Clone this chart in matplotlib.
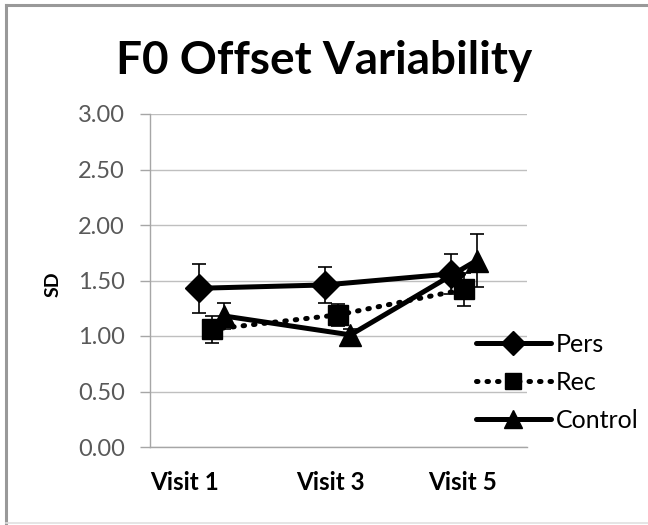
import matplotlib
matplotlib.use("Agg")
import matplotlib.pyplot as plt
from matplotlib.lines import Line2D
import numpy as np

categories = ["Visit 1", "Visit 3", "Visit 5"]
pers = [1.43, 1.46, 1.56]
pers_err = [0.22, 0.16, 0.18]
rec = [1.06, 1.19, 1.42]
rec_err = [0.12, 0.10, 0.15]
control = [1.18, 1.01, 1.68]
control_err = [0.12, 0.05, 0.24]
yticks = [0.0, 0.5, 1.0, 1.5, 2.0, 2.5, 3.0]

plt.rcParams['font.family'] = ['Lato', 'DejaVu Sans']

fig = plt.figure(figsize=(6.48, 5.25), dpi=100)
ax = fig.add_axes([150/648, 78/525, 377/648, 333/525])

x = np.arange(len(categories))
series = [
    ("Pers", pers, pers_err, 0.0, "D", 14, (0, ())),
    ("Rec", rec, rec_err, 0.1, "s", 14, (0, (0.3, 1.8))),
    ("Control", control, control_err, 0.2, "^", 16, (0, ())),
]
handles = []
for i, (name, vals, err, off, mk, ms, ls) in enumerate(series):
    xs = x + off
    ax.errorbar(xs, vals, yerr=err, fmt="none", ecolor="black", elinewidth=1.2,
                capsize=5, capthick=1.2, zorder=3 + i)
    ax.plot(xs, vals, color="black", lw=3.6, linestyle=ls, marker=mk,
            markersize=ms, markerfacecolor="black", markeredgecolor="black",
            dash_capstyle="round", solid_capstyle="butt", zorder=4 + i)
    handles.append(Line2D([], [], color="black", lw=3.6, linestyle=ls, marker=mk,
                          markersize=ms * 0.85, dash_capstyle="round"))

ax.set_xlim(-0.39, 2.60)
ax.set_ylim(0, 3)
ax.set_yticks(yticks)
ax.set_yticklabels([f"{v:.2f}" for v in yticks], fontsize=17, color="#595959")
ax.set_xticks([-0.12, 1.04, 2.09])
ax.set_xticklabels(categories, fontsize=17.5, fontweight="bold", color="black")
ax.tick_params(axis="x", length=0, pad=17)
ax.tick_params(axis="y", length=7, width=1, color="#a6a6a6", pad=11)
ax.grid(axis="y", color="#bfbfbf", lw=1)
ax.set_axisbelow(True)
for s in ["top", "right"]:
    ax.spines[s].set_visible(False)
for s in ["left", "bottom"]:
    ax.spines[s].set_color("#a6a6a6")
    ax.spines[s].set_linewidth(1)
ax.set_ylabel("SD", fontsize=14, fontweight="bold")
ax.yaxis.set_label_coords(-0.235, 0.49)

fig.text(0.5, 0.883, "F0 Offset Variability", ha="center", va="center",
         fontsize=33, fontweight="bold")

leg = fig.legend(handles, ["Pers", "Rec", "Control"], loc="upper left",
                 bbox_to_anchor=(458/648, 1 - 315/525), frameon=False,
                 fontsize=18, handlelength=3.0, handletextpad=0.2,
                 labelspacing=0.6, borderpad=0.2)

# outer chart border
fig.add_artist(Line2D([6/648, 1.0], [1 - 5/525, 1 - 5/525], color="#999999", lw=2.2,
                      transform=fig.transFigure))
fig.add_artist(Line2D([6/648, 6/648], [1 - 5/525, 2/525], color="#999999", lw=2.2,
                      transform=fig.transFigure))
fig.add_artist(Line2D([6/648, 1.0], [2/525, 2/525], color="#e0e0e0", lw=1.2,
                      transform=fig.transFigure))

fig.savefig("out.png", dpi=100)
